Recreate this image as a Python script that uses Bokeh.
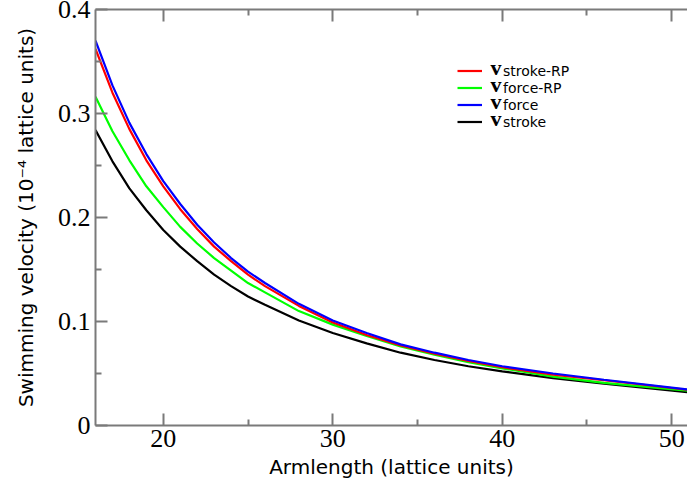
from bokeh.plotting import figure
from bokeh.models import (LinearAxis, FixedTicker, Range1d, Legend, LegendItem,
                          Label, CustomJSTickFormatter, CustomLabelingPolicy)
from bokeh.embed import file_html
from bokeh.resources import INLINE
from bokeh.core.properties import value

# ---- data ----
armlength = [16, 17, 18, 19, 20, 21, 22, 23, 24, 25, 26, 28, 30, 32, 34, 36, 38, 40, 43, 46, 51]
v_stroke_rp = [0.362, 0.320, 0.285, 0.255, 0.230, 0.208, 0.189, 0.172, 0.158, 0.145, 0.134,
               0.115, 0.099, 0.087, 0.077, 0.069, 0.062, 0.056, 0.049, 0.0435, 0.0342]
v_force_rp = [0.316, 0.283, 0.255, 0.230, 0.210, 0.191, 0.175, 0.161, 0.149, 0.137, 0.128,
              0.110, 0.097, 0.086, 0.076, 0.068, 0.061, 0.055, 0.047, 0.041, 0.0333]
v_force = [0.370, 0.327, 0.291, 0.261, 0.235, 0.213, 0.193, 0.176, 0.161, 0.148, 0.137,
           0.117, 0.101, 0.089, 0.078, 0.070, 0.063, 0.057, 0.050, 0.044, 0.0345]
v_stroke = [0.284, 0.254, 0.228, 0.207, 0.188, 0.172, 0.158, 0.145, 0.134, 0.124, 0.116,
            0.101, 0.089, 0.079, 0.070, 0.063, 0.057, 0.052, 0.0456, 0.0402, 0.032]

x_major = [20, 30, 40, 50]
x_minor = [25, 35, 45]
y_major = [0, 0.1, 0.2, 0.3, 0.4]
y_minor = [0.05, 0.15, 0.25, 0.35]

legend_subs = ["stroke-RP", "force-RP", "force", "stroke"]

AXC = "#7a7a7a"

p = figure(width=687, height=486, output_backend="svg", toolbar_location=None,
           x_range=Range1d(16, 50.93), y_range=Range1d(0, 0.4),
           x_axis_type=None, y_axis_type=None,
           min_border_left=95, min_border_right=0, min_border_top=9, min_border_bottom=61)
p.outline_line_color = None
p.background_fill_color = "white"
p.border_fill_color = "white"


def style(ax, label_size="26px"):
    ax.axis_line_color = AXC
    ax.axis_line_width = 2
    ax.major_tick_line_color = AXC
    ax.major_tick_line_width = 2
    ax.minor_tick_line_color = AXC
    ax.minor_tick_line_width = 2
    ax.major_tick_in = 12
    ax.major_tick_out = 0
    ax.minor_tick_in = 6
    ax.minor_tick_out = 0
    ax.major_label_text_font = "Liberation Serif"
    ax.major_label_text_font_size = label_size
    ax.major_label_text_color = "black"
    ax.axis_label_text_font = "DejaVu Sans"
    ax.axis_label_text_font_size = "20px"
    ax.axis_label_text_font_style = "normal"
    ax.axis_label_text_color = "black"


xt = FixedTicker(ticks=x_major, minor_ticks=x_minor)
yt = FixedTicker(ticks=y_major, minor_ticks=y_minor)
yfmt = CustomJSTickFormatter(code="return tick == 0 ? '0' : tick.toFixed(1);")

xb = LinearAxis(ticker=xt, axis_label="Armlength (lattice units)")
style(xb)
xb.major_label_standoff = 4
xb.axis_label_standoff = 5
p.add_layout(xb, "below")

yl = LinearAxis(ticker=yt, formatter=yfmt,
                axis_label="Swimming velocity (10\u207b\u2074 lattice units)")
style(yl)
yl.major_label_standoff = 5
yl.axis_label_standoff = 17
p.add_layout(yl, "left")

xa = LinearAxis(ticker=xt)
style(xa, label_size="1px")
xa.major_label_standoff = 0
xa.major_label_policy = CustomLabelingPolicy(
    code="for (const i of Array.from(indices)) { indices.unset(i); } return indices;")
p.add_layout(xa, "above")

r_black = p.line(armlength, v_stroke, line_color="black", line_width=2.2)
r_green = p.line(armlength, v_force_rp, line_color="#00ff00", line_width=2.2)
r_red = p.line(armlength, v_stroke_rp, line_color="#ff0000", line_width=2.2)
r_blue = p.line(armlength, v_force, line_color="#0000ff", line_width=2.2)

legend = Legend(items=[
    LegendItem(label=value(legend_subs[0]), renderers=[r_red]),
    LegendItem(label=value(legend_subs[1]), renderers=[r_green]),
    LegendItem(label=value(legend_subs[2]), renderers=[r_blue]),
    LegendItem(label=value(legend_subs[3]), renderers=[r_black]),
], location=(362, 295))
legend.label_text_font = "DejaVu Sans"
legend.label_text_font_size = "14px"
legend.label_text_color = "black"
legend.glyph_width = 25
legend.glyph_height = 17
legend.label_height = 17
legend.spacing = 0
legend.padding = 0
legend.margin = 0
legend.label_standoff = 21
legend.border_line_color = None
legend.background_fill_alpha = 0
p.add_layout(legend)

for i in range(4):
    p.add_layout(Label(x=395, y=358.4 - 17 * i, x_units="screen", y_units="screen",
                       text="v", text_font="Liberation Serif", text_font_style="bold",
                       text_font_size="22px", text_baseline="middle", text_align="left",
                       text_color="black"))

open("out.html", "w").write(file_html(p, INLINE))
